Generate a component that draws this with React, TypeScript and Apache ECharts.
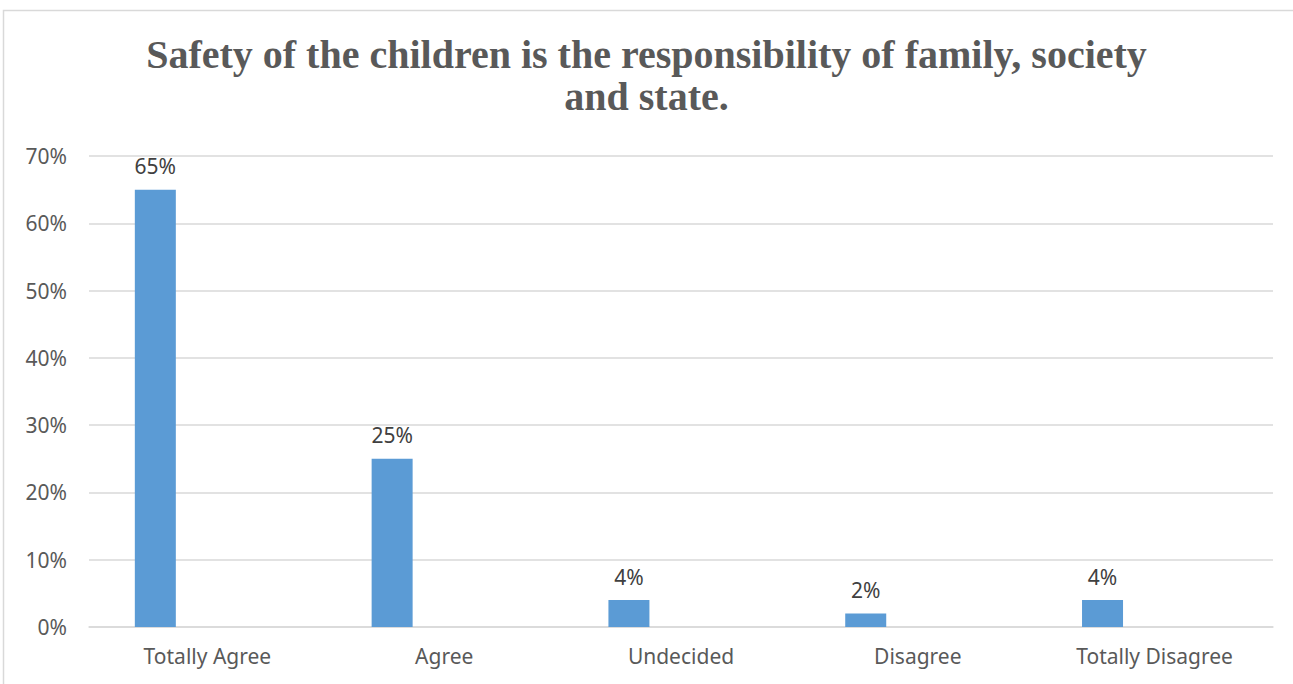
import React, { useEffect, useRef } from "react";
import * as echarts from "echarts";

const categories = ["Totally Agree", "Agree", "Undecided", "Disagree", "Totally Disagree"];
const values = [65, 25, 4, 2, 4];
const yTicks = [0, 10, 20, 30, 40, 50, 60, 70];
const titleText = "Safety of the children is the responsibility of family, society\nand state.";

export default function App() {
  const ref = useRef<HTMLDivElement>(null);
  useEffect(() => {
    if (!ref.current) return;
    const chart = echarts.init(ref.current, null, { renderer: "svg" });
    const empty = categories.map(() => null);
    chart.setOption({
      animation: false,
      backgroundColor: "#ffffff",
      title: {
        text: titleText,
        left: "center",
        top: 28,
        textStyle: {
          fontFamily: "Liberation Serif",
          fontWeight: "bold",
          fontSize: 40,
          color: "#595959",
          lineHeight: 42,
        },
      },
      graphic: [
        {
          type: "rect",
          shape: { x: 3.5, y: 10.5, width: 1320, height: 720 },
          style: { fill: "none", stroke: "#d9d9d9", lineWidth: 1.5 },
          silent: true,
        },
      ],
      grid: { left: 89, right: 20, top: 156, bottom: 57, containLabel: false },
      xAxis: {
        type: "category",
        data: categories,
        axisLine: { lineStyle: { color: "#d9d9d9", width: 1.5 } },
        axisTick: { show: false },
        axisLabel: {
          color: "#595959",
          fontFamily: "Noto Sans",
          fontSize: 21,
          margin: 18,
        },
      },
      yAxis: {
        type: "value",
        min: 0,
        max: 70,
        interval: 10,
        axisLine: { show: false },
        axisTick: { show: false },
        splitLine: { lineStyle: { color: "#d9d9d9", width: 1.5 } },
        axisLabel: {
          color: "#595959",
          fontFamily: "Noto Sans",
          fontSize: 21,
          margin: 22,
          formatter: (v: number) => (yTicks.includes(v) ? v + "%" : ""),
        },
      },
      series: [
        {
          type: "bar",
          data: values,
          barWidth: 41,
          barGap: "27%",
          itemStyle: { color: "#5b9bd5" },
          label: {
            show: true,
            position: "top",
            distance: 13,
            formatter: (p: any) => p.value + "%",
            color: "#404040",
            fontFamily: "Noto Sans",
            fontSize: 21,
          },
        },
        { type: "bar", data: empty, barWidth: 41, barGap: "27%" },
        { type: "bar", data: empty, barWidth: 41, barGap: "27%" },
      ],
    });
    return () => chart.dispose();
  }, []);
  return (
    <div
      ref={ref}
      style={{ position: "fixed", left: 0, top: 0, width: 1293, height: 684 }}
    />
  );
}
